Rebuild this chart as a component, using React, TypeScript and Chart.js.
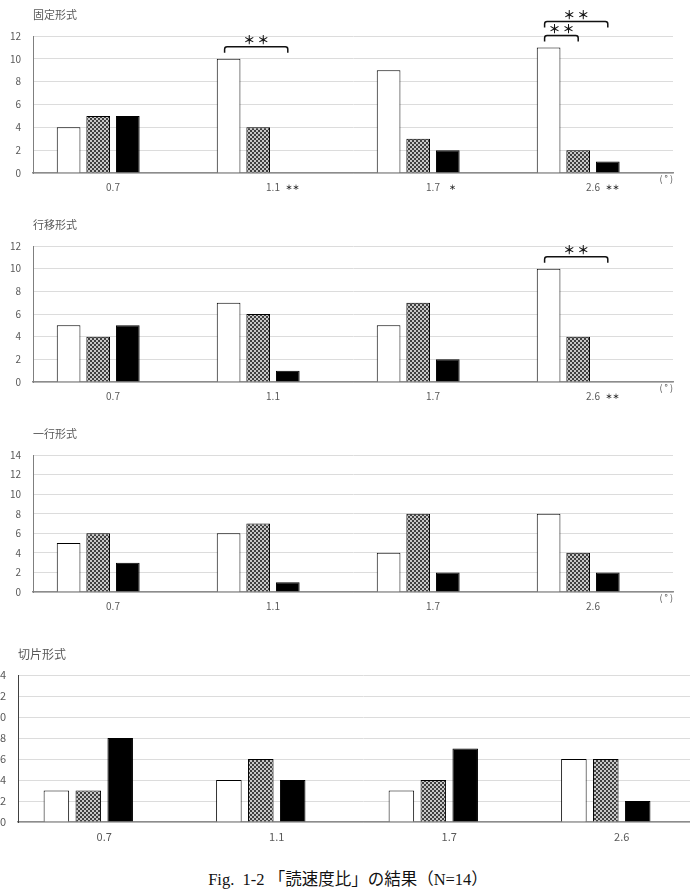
import React, { useEffect, useLayoutEffect, useRef } from 'react';
import { Chart, registerables } from 'chart.js';

Chart.register(...registerables);

const FONT = '"Noto Sans CJK JP", "Noto Sans", sans-serif';

const categories = ['0.7', '1.1', '1.7', '2.6'];

// 固定形式
const fixedWhite = [4, 10, 9, 11];
const fixedHatched = [5, 4, 3, 2];
const fixedBlack = [5, 0, 2, 1];
const fixedTickStars = ['', '＊＊', '＊', '＊＊'];

// 行移形式
const shiftWhite = [5, 7, 5, 10];
const shiftHatched = [4, 6, 7, 4];
const shiftBlack = [5, 1, 2, 0];
const shiftTickStars = ['', '', '', '＊＊'];

// 一行形式
const lineWhite = [5, 6, 4, 8];
const lineHatched = [6, 7, 8, 4];
const lineBlack = [3, 1, 2, 2];

// 切片形式
const sliceWhite = [3, 4, 3, 6];
const sliceHatched = [3, 6, 4, 6];
const sliceBlack = [8, 4, 7, 2];

// empty fourth series (reserved slot in each group)
const emptySeries = [0, 0, 0, 0];

// significance brackets: category index, from series, to series, level
const fixedBrackets = [
  { cat: 1, from: 0, to: 2, level: 0 },
  { cat: 3, from: 0, to: 1, level: 0 },
  { cat: 3, from: 0, to: 2, level: 1 },
];
const shiftBrackets = [{ cat: 3, from: 0, to: 2, level: 0 }];

type Bracket = { cat: number; from: number; to: number; level: number };

type PanelDef = {
  title: string; white: number[]; hatched: number[]; black: number[]; max: number;
  tickStars: string[]; brackets: Bracket[]; showDeg: boolean;
  left: number; top: number; width: number; height: number; padTop: number; padRight: number;
  yWidth: number; xHeight: number; tickSize: number; titleSize: number; yPad: number; axisColor: string;
};

const panels: PanelDef[] = [
  {
    title: '固定形式', white: fixedWhite, hatched: fixedHatched, black: fixedBlack, max: 12,
    tickStars: fixedTickStars, brackets: fixedBrackets, showDeg: true,
    left: 0, top: 0, width: 690, height: 200, padTop: 36, padRight: 17, yWidth: 33, xHeight: 27,
    tickSize: 10, titleSize: 11, yPad: 12, axisColor: '#7f7f7f',
  },
  {
    title: '行移形式', white: shiftWhite, hatched: shiftHatched, black: shiftBlack, max: 12,
    tickStars: shiftTickStars, brackets: shiftBrackets, showDeg: true,
    left: 0, top: 210, width: 690, height: 199, padTop: 36, padRight: 17, yWidth: 33, xHeight: 27,
    tickSize: 10, titleSize: 11, yPad: 12, axisColor: '#7f7f7f',
  },
  {
    title: '一行形式', white: lineWhite, hatched: lineHatched, black: lineBlack, max: 14,
    tickStars: [], brackets: [], showDeg: true,
    left: 0, top: 420, width: 690, height: 199, padTop: 35, padRight: 17, yWidth: 33, xHeight: 27,
    tickSize: 10, titleSize: 11, yPad: 12, axisColor: '#7f7f7f',
  },
  {
    title: '切片形式', white: sliceWhite, hatched: sliceHatched, black: sliceBlack, max: 14,
    tickStars: [], brackets: [], showDeg: false,
    left: -30, top: 630, width: 738, height: 222, padTop: 45, padRight: 0, yWidth: 48, xHeight: 30,
    tickSize: 11, titleSize: 12, yPad: 12, axisColor: '#404040',
  },
];

function makePattern(): CanvasPattern | string {
  const c = document.createElement('canvas');
  c.width = 4;
  c.height = 4;
  const g = c.getContext('2d');
  if (!g) return '#888';
  g.fillStyle = '#c8c8c8';
  g.fillRect(0, 0, 4, 4);
  g.fillStyle = '#404040';
  g.fillRect(0, 0, 2, 2);
  g.fillRect(2, 2, 2, 2);
  const p = g.createPattern(c, 'repeat');
  return p || '#888';
}

function Panel({ def }: { def: PanelDef }) {
  const ref = useRef<HTMLCanvasElement | null>(null);
  useEffect(() => {
    if (!ref.current) return;
    const pattern = makePattern();
    const annot = {
      id: 'annot',
      afterDraw(chart: any) {
        const { ctx, chartArea } = chart;
        const xs = chart.scales.x;
        ctx.save();
        // panel title
        ctx.fillStyle = '#595959';
        ctx.font = `${def.titleSize}px ${FONT}`;
        ctx.textAlign = 'left';
        ctx.textBaseline = 'middle';
        ctx.fillText(def.title, chartArea.left, chartArea.top - 21);
        // degree unit
        if (def.showDeg) {
          ctx.font = `9px ${FONT}`;
          ctx.textAlign = 'right';
          ctx.fillText('( ° )', chartArea.right, chartArea.bottom + 6);
        }
        // stars next to tick labels
        ctx.fillStyle = '#222';
        ctx.font = `bold 7px ${FONT}`;
        ctx.textAlign = 'center';
        def.tickStars.forEach((s, i) => {
          if (!s) return;
          const x = xs.getPixelForTick(i) + 19.5;
          ctx.fillText(s, x, chartArea.bottom + 14);
        });
        // significance brackets
        def.brackets.forEach((b) => {
          const fromBar = chart.getDatasetMeta(b.from).data[b.cat];
          const toBar = chart.getDatasetMeta(b.to).data[b.cat];
          const x1 = fromBar.x - 4;
          const x2 = toBar.x;
          const y = fromBar.y - 12 - b.level * 14;
          ctx.strokeStyle = '#111';
          ctx.lineWidth = 1.5;
          ctx.beginPath();
          ctx.moveTo(x1, y + 6);
          ctx.lineTo(x1, y + 2.5);
          ctx.quadraticCurveTo(x1, y, x1 + 2.5, y);
          ctx.lineTo(x2 - 2.5, y);
          ctx.quadraticCurveTo(x2, y, x2, y + 2.5);
          ctx.lineTo(x2, y + 6);
          ctx.stroke();
          const mx = (x1 + x2) / 2;
          ctx.fillStyle = '#111';
          ctx.font = `bold 12px ${FONT}`;
          ctx.textAlign = 'center';
          ctx.textBaseline = 'middle';
          ctx.fillText('＊', mx - 7, y - 6);
          ctx.fillText('＊', mx + 7, y - 6);
        });
        ctx.restore();
      },
    };
    const common = { borderColor: '#000', borderWidth: 1, categoryPercentage: 0.74, barPercentage: 0.8 };
    const chart = new Chart(ref.current, {
      type: 'bar',
      data: {
        labels: categories,
        datasets: [
          { ...common, data: def.white, backgroundColor: '#ffffff' },
          { ...common, data: def.hatched, backgroundColor: pattern as any },
          { ...common, data: def.black, backgroundColor: '#000000' },
          { ...common, data: emptySeries, backgroundColor: 'rgba(0,0,0,0)', borderWidth: 0 },
        ],
      },
      options: {
        responsive: false,
        animation: false,
        events: [],
        layout: { padding: { top: def.padTop, right: def.padRight, left: 0, bottom: 0 } },
        plugins: { legend: { display: false }, tooltip: { enabled: false }, title: { display: false } },
        scales: {
          x: {
            grid: { display: false, drawTicks: false },
            border: { display: true, color: '#8c8c8c', width: 1.5 },
            ticks: { color: '#595959', font: { size: def.tickSize, family: FONT }, padding: 8, maxRotation: 0 },
            afterFit: (s: any) => { s.height = def.xHeight; },
          },
          y: {
            min: 0,
            max: def.max,
            grid: { color: '#dcdcdc', drawTicks: false },
            border: { display: true, color: def.axisColor, width: 1 },
            ticks: { stepSize: 2, color: '#595959', font: { size: def.tickSize, family: FONT }, padding: def.yPad },
            afterFit: (s: any) => { s.width = def.yWidth; },
          },
        },
      },
      plugins: [annot],
    });
    return () => chart.destroy();
  }, [def]);
  return (
    <canvas
      ref={ref}
      width={def.width}
      height={def.height}
      style={{ position: 'absolute', left: def.left, top: def.top, width: def.width, height: def.height }}
    />
  );
}

export default function App() {
  useLayoutEffect(() => {
    document.body.style.margin = '0';
    document.body.style.padding = '0';
  }, []);
  return (
    <div style={{ position: 'relative', width: 690, height: 891, overflow: 'hidden', background: '#fff' }}>
      {panels.map((p) => (
        <Panel key={p.title} def={p} />
      ))}
      <div
        style={{
          position: 'absolute', left: 0, width: 696, top: 870, textAlign: 'center', whiteSpace: 'pre',
          fontFamily: '"Liberation Serif", "Noto Sans CJK JP", serif', fontSize: 16.5, lineHeight: '20px', color: '#111',
        }}
      >
        {'Fig.  1-2 「読速度比」の結果（N=14）'}
      </div>
    </div>
  );
}
